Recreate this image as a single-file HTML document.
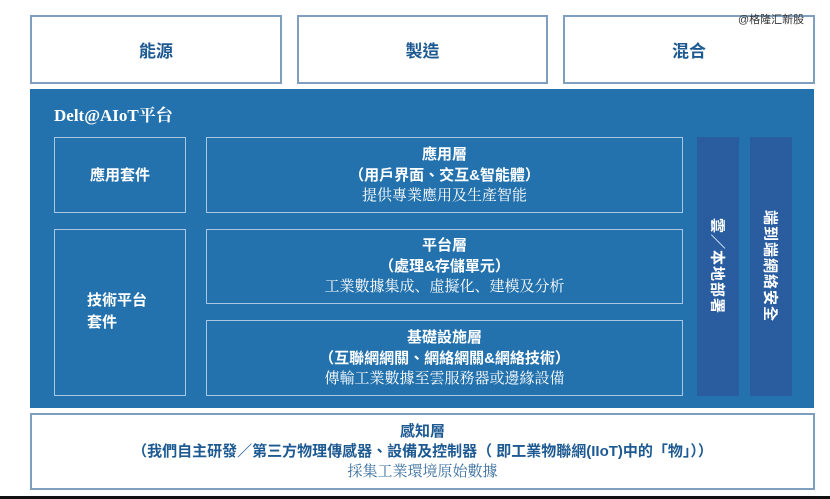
<!DOCTYPE html>
<html><head><meta charset="utf-8"><style>
body{margin:0;width:830px;height:499px;background:#fff;position:relative;overflow:hidden;font-family:"Liberation Sans","Noto Sans CJK TC",sans-serif}
.a{position:absolute;box-sizing:border-box}
.top{border:2px solid #7f9fc0;background:#fff;color:#1e5a92;font-size:17px;font-weight:bold;display:flex;align-items:center;justify-content:center;top:15px;height:69px}
.panel{left:30px;top:89px;width:784px;height:319px;background:#2372ae}
.ib{border:1.5px solid #a9c6e2;color:#fff;display:flex;flex-direction:column;align-items:center;justify-content:center;text-align:center;line-height:21px;font-size:15px}
.b{font-weight:bold}
.s{font-family:"Liberation Serif","Noto Serif CJK SC",serif;font-size:15px}
.bar{background:#2a5d9f;color:#fff;font-weight:bold;font-size:15px;writing-mode:vertical-rl;text-orientation:sideways;display:flex;align-items:center;justify-content:center;letter-spacing:1px}
</style></head><body>
<div class="a top" style="left:30px;width:252px">能源</div>
<div class="a top" style="left:297px;width:251px">製造</div>
<div class="a top" style="left:563px;width:252px">混合</div>
<div class="a" style="left:738px;top:11px;font-size:11px;color:#333">@格隆汇新股</div>
<div class="a panel"></div>
<div class="a" style="left:54px;top:101px;color:#fff;font-weight:bold;font-size:17px;font-family:'Liberation Serif','Noto Serif CJK SC',serif">Delt@AIoT平台</div>
<div class="a ib b" style="left:54px;top:137px;width:132px;height:76px">應用套件</div>
<div class="a ib b" style="left:54px;top:229px;width:132px;height:167px;display:block;text-align:left;padding-left:32px;padding-top:60px;line-height:22px">技術平台<br>套件</div>
<div class="a ib" style="left:206px;top:137px;width:477px;height:76px"><span class="b">應用層</span><span class="b">（用戶界面、交互&amp;智能體）</span><span class="s">提供專業應用及生產智能</span></div>
<div class="a ib" style="left:206px;top:229px;width:477px;height:75px"><span class="b">平台層</span><span class="b">（處理&amp;存儲單元）</span><span class="s">工業數據集成、虛擬化、建模及分析</span></div>
<div class="a ib" style="left:206px;top:320px;width:477px;height:76px"><span class="b">基礎設施層</span><span class="b">（互聯網網關、網絡網關&amp;網絡技術）</span><span class="s">傳輸工業數據至雲服務器或邊緣設備</span></div>
<div class="a bar" style="left:697px;top:137px;width:42px;height:259px">雲／本地部署</div>
<div class="a bar" style="left:750px;top:137px;width:42px;height:259px">端到端網絡安全</div>
<div class="a ib" style="left:30px;top:413px;width:785px;height:77px;border:2px solid #7f9fc0;color:#1e5a92;line-height:20px"><span class="b">感知層</span><span class="b">（我們自主研發／第三方物理傳感器、設備及控制器（ 即工業物聯網(IIoT)中的「物」））</span><span class="s" style="color:#3a6fa0">採集工業環境原始數據</span></div>
<div class="a" style="left:0;top:496px;width:830px;height:3px;background:#111"></div>
</body></html>
